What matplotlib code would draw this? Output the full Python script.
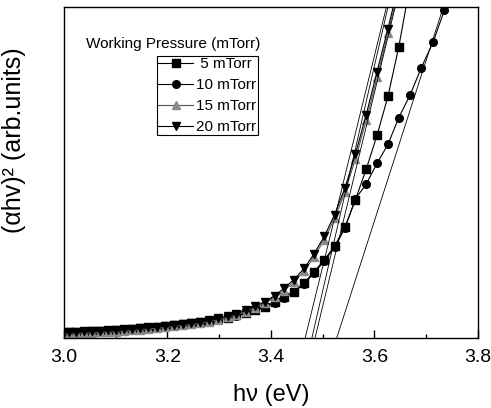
import matplotlib.pyplot as plt

plt.rcParams['font.family'] = ['Liberation Sans', 'DejaVu Sans']

# photon energy of the measured points (eV)
energy = [2.995, 3.010, 3.024, 3.039, 3.054, 3.069, 3.085, 3.100, 3.116, 3.131,
          3.147, 3.163, 3.180, 3.196, 3.212, 3.229, 3.246, 3.263, 3.280, 3.298,
          3.316, 3.333, 3.351, 3.370, 3.388, 3.407, 3.425, 3.444, 3.464, 3.483,
          3.503, 3.523, 3.543, 3.563, 3.584, 3.605, 3.626, 3.647, 3.669, 3.690,
          3.713, 3.735]

# (alpha h nu)^2, arbitrary units
y_5 = [1.6, 1.7, 1.8, 1.9, 2.0, 2.1, 2.2, 2.3, 2.5, 2.7,
       2.9, 3.1, 3.3, 3.5, 3.8, 4.1, 4.4, 4.8, 5.2, 5.7,
       6.1, 6.8, 7.6, 8.5, 9.5, 10.8, 12.3, 14.0, 16.6, 20.0,
       23.6, 27.8, 33.6, 41.7, 51.0, 61.3, 73.0, 88.0, 107.0]
y_10 = [1.6, 1.7, 1.8, 1.9, 2.0, 2.1, 2.2, 2.3, 2.5, 2.7,
        2.9, 3.1, 3.3, 3.5, 3.7, 4.0, 4.3, 4.7, 5.1, 5.6,
        6.0, 6.7, 7.5, 8.4, 9.4, 10.6, 12.1, 13.8, 16.3, 19.6,
        23.2, 27.4, 33.2, 42.0, 46.5, 52.8, 58.5, 66.6, 73.5, 81.5,
        89.3, 99.0]
y_15 = [1.2, 1.3, 1.4, 1.5, 1.6, 1.7, 1.8, 1.9, 2.1, 2.3,
        2.5, 2.7, 3.0, 3.2, 3.5, 3.8, 4.1, 4.5, 4.9, 5.5,
        6.2, 7.0, 8.0, 9.2, 10.6, 12.3, 14.3, 16.9, 20.2, 24.5,
        29.7, 36.2, 44.2, 54.0, 65.8, 78.8, 92.0, 105.5]
y_20 = [1.7, 1.8, 1.9, 2.0, 2.1, 2.2, 2.3, 2.4, 2.6, 2.8,
        3.0, 3.2, 3.4, 3.6, 3.9, 4.2, 4.5, 4.9, 5.3, 5.9,
        6.6, 7.4, 8.4, 9.6, 11.0, 12.8, 15.0, 17.6, 21.0, 25.4,
        30.7, 37.3, 45.4, 55.5, 67.5, 80.5, 93.5, 107.0]

labels = [' 5 mTorr', '10 mTorr', '15 mTorr', '20 mTorr']

# linear extrapolations to the energy axis: (x0, x1) at y = 0 and y = 100
fit_x = [(3.466, 3.623), (3.479, 3.626), (3.485, 3.640), (3.527, 3.733)]
fit_y = (0, 100)

fig = plt.figure(figsize=(4.91, 4.08), dpi=100)
ax = fig.add_axes([64 / 491, 70 / 408, 414 / 491, 331 / 408])

styles = [('s', 'black', 'black'), ('o', 'black', 'black'),
          ('^', '#8a8a8a', '#555555'), ('v', 'black', 'black')]
for y, lab, (m, mc, lc) in zip([y_5, y_10, y_15, y_20], labels, styles):
    ax.plot(energy[:len(y)], y, color=lc, lw=0.8, marker=m, ms=5.5,
            mfc=mc, mec=mc, label=lab)

for xs in fit_x:
    ax.plot(xs, fit_y, color='black', lw=0.6)

ax.set_xlim(3.0, 3.8)
ax.set_ylim(0, 100)
ax.set_yticks([])
ax.set_xticks([3.0, 3.2, 3.4, 3.6, 3.8])
ax.set_xticks([3.1, 3.3, 3.5, 3.7], minor=True)
ax.set_xticklabels(['3.0', '3.2', '3.4', '3.6', '3.8'], fontsize=14)
ax.tick_params(axis='x', which='major', direction='in', length=6, width=1, pad=8)
ax.tick_params(axis='x', which='minor', direction='in', length=3, width=1)
for s in ax.spines.values():
    s.set_linewidth(1.0)

ax.set_xlabel('hν (eV)', fontsize=17, labelpad=13)
fig.text(14 / 491, 1 - 140 / 408, '(αhv)² (arb.units)', rotation=90,
         fontsize=18, ha='center', va='center')

fig.text(86 / 491, 1 - 44 / 408, 'Working Pressure (mTorr)', fontsize=11,
         va='center')
leg = ax.legend(loc='upper left', bbox_to_anchor=(156.7 / 491, 1 - 55.7 / 408),
                bbox_transform=fig.transFigure, fancybox=False, edgecolor='black',
                framealpha=1, borderpad=0.1, handlelength=2.3, handletextpad=0.2,
                labelspacing=0.45, borderaxespad=0, fontsize=11, numpoints=1)
leg.get_frame().set_linewidth(0.8)

fig.savefig('out.png', dpi=100)
